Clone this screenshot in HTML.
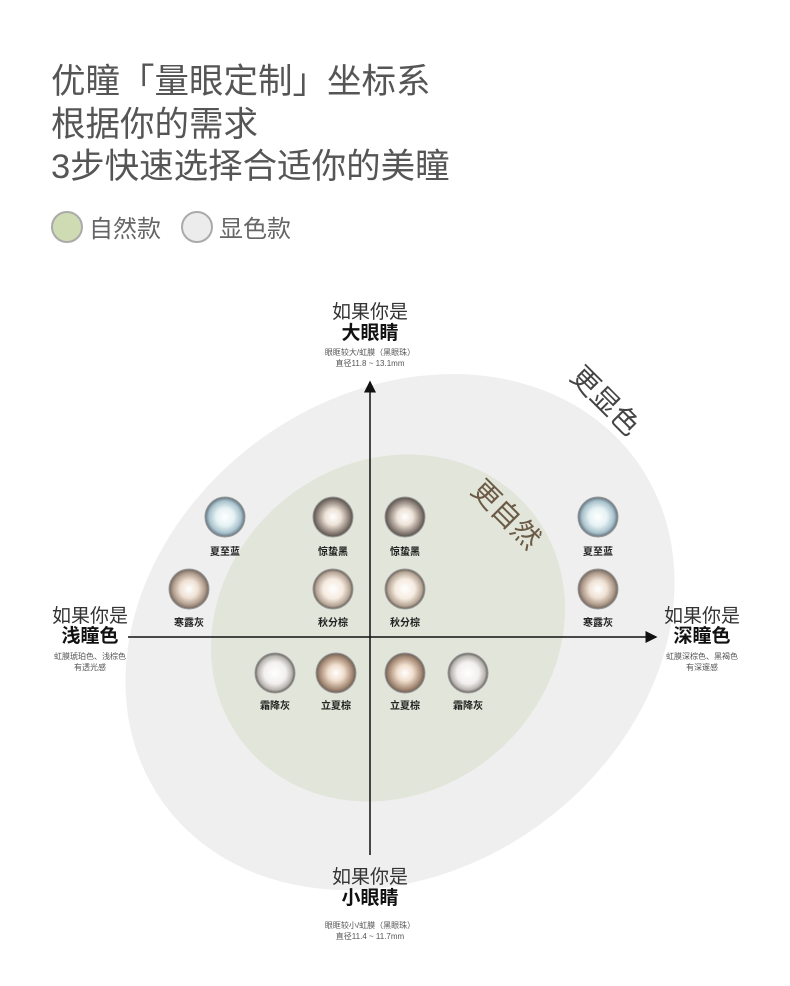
<!DOCTYPE html>
<html><head><meta charset="utf-8"><style>
body{margin:0;background:#fff;width:790px;height:986px;overflow:hidden;font-family:"Liberation Sans","Noto Sans CJK SC",sans-serif;}
</style></head><body>
<svg width="790" height="986" xmlns="http://www.w3.org/2000/svg" style="position:absolute;left:0;top:0">
<defs>
<radialGradient id="gb" cx="50%" cy="50%" r="50%"><stop offset="0" stop-color="#fff"/><stop offset="0.45" stop-color="#e6f2f4"/><stop offset="0.8" stop-color="#a9c2cc"/><stop offset="1" stop-color="#5f6f7a"/></radialGradient>
<radialGradient id="gk" cx="50%" cy="50%" r="50%"><stop offset="0" stop-color="#fff"/><stop offset="0.4" stop-color="#eee3d8"/><stop offset="0.8" stop-color="#8d8179"/><stop offset="1" stop-color="#55504c"/></radialGradient>
<radialGradient id="gr" cx="50%" cy="50%" r="50%"><stop offset="0" stop-color="#fff"/><stop offset="0.45" stop-color="#efe1d4"/><stop offset="0.8" stop-color="#b09c8c"/><stop offset="1" stop-color="#6f645c"/></radialGradient>
<radialGradient id="gq" cx="50%" cy="50%" r="50%"><stop offset="0" stop-color="#fff"/><stop offset="0.5" stop-color="#f6ebe0"/><stop offset="0.85" stop-color="#b5a595"/><stop offset="1" stop-color="#5f5852"/></radialGradient>
<radialGradient id="gs" cx="50%" cy="50%" r="50%"><stop offset="0" stop-color="#fff"/><stop offset="0.55" stop-color="#f2f0ee"/><stop offset="0.85" stop-color="#b8b4b0"/><stop offset="1" stop-color="#5e5b58"/></radialGradient>
<radialGradient id="gl" cx="50%" cy="50%" r="50%"><stop offset="0" stop-color="#fff"/><stop offset="0.4" stop-color="#f1dfce"/><stop offset="0.8" stop-color="#a88d78"/><stop offset="1" stop-color="#6a5e55"/></radialGradient>
<marker id="ah" markerWidth="8" markerHeight="8" refX="7" refY="4" orient="auto"><path d="M0,0 L8,4 L0,8 z" fill="#111"/></marker>
</defs>
<ellipse cx="400" cy="632" rx="292" ry="238" transform="rotate(-36 400 632)" fill="#efefef"/>
<ellipse cx="388" cy="628" rx="185" ry="165" transform="rotate(-40 388 628)" fill="#e2e5d9"/>
<line x1="128" y1="637" x2="656" y2="637" stroke="#111" stroke-width="1.5" marker-end="url(#ah)"/>
<line x1="370" y1="855" x2="370" y2="382" stroke="#111" stroke-width="1.5" marker-end="url(#ah)"/>
<g font-family="Liberation Sans, Noto Sans CJK SC, sans-serif">
<text x="51" y="93" font-size="34.5" fill="#555">优瞳「量眼定制」坐标系</text>
<text x="51" y="136" font-size="34.5" fill="#555">根据你的需求</text>
<text x="51" y="178" font-size="34.5" fill="#555">3步快速选择合适你的美瞳</text>
<circle cx="67" cy="227" r="15" fill="#cfdcb3" stroke="#aaa" stroke-width="2"/>
<text x="89" y="237" font-size="24" fill="#666">自然款</text>
<circle cx="197" cy="227" r="15" fill="#ececec" stroke="#aaa" stroke-width="2"/>
<text x="219" y="237" font-size="24" fill="#666">显色款</text>
<g text-anchor="middle" fill="#333">
<text x="370" y="318" font-size="19">如果你是</text>
<text x="370" y="339" font-size="19" font-weight="bold" fill="#111">大眼睛</text>
<text x="370" y="355" font-size="8" fill="#555">眼眶较大/虹膜（黑眼珠）</text>
<text x="370" y="366" font-size="8" fill="#555">直径11.8 ~ 13.1mm</text>
<text x="370" y="883" font-size="19">如果你是</text>
<text x="370" y="904" font-size="19" font-weight="bold" fill="#111">小眼睛</text>
<text x="370" y="928" font-size="8" fill="#555">眼眶较小/虹膜（黑眼珠）</text>
<text x="370" y="939" font-size="8" fill="#555">直径11.4 ~ 11.7mm</text>
<text x="90" y="622" font-size="19">如果你是</text>
<text x="90" y="642" font-size="19" font-weight="bold" fill="#111">浅瞳色</text>
<text x="90" y="659" font-size="8" fill="#555">虹膜琥珀色、浅棕色</text>
<text x="90" y="670" font-size="8" fill="#555">有透光感</text>
<text x="702" y="622" font-size="19">如果你是</text>
<text x="702" y="642" font-size="19" font-weight="bold" fill="#111">深瞳色</text>
<text x="702" y="659" font-size="8" fill="#555">虹膜深棕色、黑褐色</text>
<text x="702" y="670" font-size="8" fill="#555">有深邃感</text>
</g>
<text x="563" y="398" font-size="28" fill="#444" transform="rotate(45 590 395)">更显色</text>
<text x="466" y="510" font-size="28" fill="#6b5a45" transform="rotate(45 490 505)">更自然</text>
<g font-size="10" font-weight="bold" fill="#222" text-anchor="middle">
<circle cx="225" cy="517" r="20" fill="url(#gb)" stroke="#999"/><text x="225" y="555">夏至蓝</text>
<circle cx="333" cy="517" r="20" fill="url(#gk)" stroke="#999"/><text x="333" y="555">惊蛰黑</text>
<circle cx="405" cy="517" r="20" fill="url(#gk)" stroke="#999"/><text x="405" y="555">惊蛰黑</text>
<circle cx="598" cy="517" r="20" fill="url(#gb)" stroke="#999"/><text x="598" y="555">夏至蓝</text>
<circle cx="189" cy="589" r="20" fill="url(#gr)" stroke="#999"/><text x="189" y="626">寒露灰</text>
<circle cx="333" cy="589" r="20" fill="url(#gq)" stroke="#999"/><text x="333" y="626">秋分棕</text>
<circle cx="405" cy="589" r="20" fill="url(#gq)" stroke="#999"/><text x="405" y="626">秋分棕</text>
<circle cx="598" cy="589" r="20" fill="url(#gr)" stroke="#999"/><text x="598" y="626">寒露灰</text>
<circle cx="275" cy="673" r="20" fill="url(#gs)" stroke="#999"/><text x="275" y="709">霜降灰</text>
<circle cx="336" cy="673" r="20" fill="url(#gl)" stroke="#999"/><text x="336" y="709">立夏棕</text>
<circle cx="405" cy="673" r="20" fill="url(#gl)" stroke="#999"/><text x="405" y="709">立夏棕</text>
<circle cx="468" cy="673" r="20" fill="url(#gs)" stroke="#999"/><text x="468" y="709">霜降灰</text>
</g>
</g>
</svg>
</body></html>
